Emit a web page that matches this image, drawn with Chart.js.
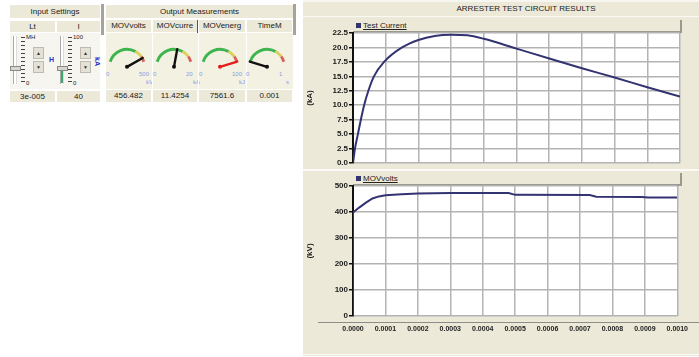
<!DOCTYPE html>
<html><head><meta charset="utf-8">
<script src="https://cdn.jsdelivr.net/npm/chart.js@4.4.0/dist/chart.umd.min.js"></script>
<style>
html,body{margin:0;padding:0;background:#fff;width:699px;height:357px;overflow:hidden;font-family:"Liberation Sans",Arial,sans-serif;color:#222;}
.a{position:absolute;}
.hdr{position:absolute;background:#ece9d8;font-size:8px;text-align:center;line-height:12px;white-space:nowrap;overflow:hidden;color:#222;}
.val{position:absolute;background:#ece9d8;font-size:8px;text-align:center;line-height:11px;white-space:nowrap;overflow:hidden;color:#222;}
.btn{position:absolute;width:9px;height:10px;background:#e4e2d6;border:1px solid #bdbab0;font-size:5px;line-height:10px;text-align:center;color:#333;}
.tick{position:absolute;width:4px;height:1px;background:#444;}
.glab{position:absolute;font-size:6px;color:#8d9be6;white-space:nowrap;}
canvas{position:absolute;}
.leg{position:absolute;background:#ece9d8;border-right:2px solid #9c9a90;border-bottom:2px solid #9c9a90;font-size:8px;line-height:11px;white-space:nowrap;}
.leg span.sq{display:inline-block;width:5px;height:5px;background:#333370;margin:0 2px 0 3px;vertical-align:0px;}
.leg span.t{text-decoration:underline;color:#222;}
</style>
</head><body>
<!-- left panel -->
<div class="hdr" style="left:10px;top:5px;width:90px;height:13px;line-height:13px;">Input Settings</div>
<div class="a" style="left:101px;top:4px;width:3px;height:31px;background:#a6a49a;"></div>
<div class="hdr" style="left:10px;top:21px;width:45px;height:11px;line-height:11px;">Lt</div>
<div class="hdr" style="left:57px;top:21px;width:43px;height:11px;line-height:11px;">I</div>
<div class="a" style="left:10px;top:33px;width:90px;height:56px;background:#f6f5f0;"></div>
<div id="sliders"></div>
<div class="val" style="left:10px;top:91px;width:45px;height:11px;">3e-005</div>
<div class="val" style="left:57px;top:91px;width:43px;height:11px;">40</div>

<div class="hdr" style="left:106px;top:5px;width:187px;height:13px;line-height:13px;">Output Measurements</div>
<div class="a" style="left:293px;top:4px;width:3px;height:31px;background:#a6a49a;"></div>
<div class="a" style="left:106px;top:33px;width:187px;height:56px;background:#f3f1e2;"></div>
<div id="gauges"></div>

<!-- right panel -->
<div class="a" style="left:303px;top:0px;width:396px;height:356px;background:#ece9d8;"></div>
<div class="a" style="left:303px;top:0px;width:396px;height:2px;background:#f7f6f0;"></div>
<div class="a" style="left:403px;top:3px;width:246px;text-align:center;font-size:8px;line-height:12px;color:#222;">ARRESTER TEST CIRCUIT RESULTS</div>
<div class="a" style="left:303px;top:16px;width:396px;height:1px;background:#faf9f4;"></div>
<div class="a" style="left:303px;top:169px;width:396px;height:2px;background:#fbfaf6;"></div>
<div class="a" style="left:318px;top:322px;width:381px;height:1px;background:#8e8c86;"></div>
<div class="a" style="left:303px;top:354px;width:396px;height:1px;background:#fbfaf6;"></div>
<div class="leg" style="left:353px;top:20px;width:327px;height:11px;"><span class="sq"></span><span class="t">Test Current</span></div>
<div class="leg" style="left:353px;top:173px;width:327px;height:11px;"><span class="sq"></span><span class="t">MOVvolts</span></div>

<canvas id="c1" width="392" height="153" style="left:305px;top:17px;"></canvas>
<canvas id="c2" width="392" height="170" style="left:305px;top:172px;"></canvas>

<script>
// ---- data ----
const xTicks = [0, 0.0001, 0.0002, 0.0003, 0.0004, 0.0005, 0.0006, 0.0007, 0.0008, 0.0009, 0.0010];
const currentTicks = [0, 2.5, 5, 7.5, 10, 12.5, 15, 17.5, 20, 22.5];
const voltTicks = [0, 100, 200, 300, 400, 500];

const currentTime = [0, 0.000006, 0.000015, 0.000024, 0.000034, 0.000047, 0.000064, 0.000095, 0.00015, 0.0002, 0.00025, 0.0003, 0.00035, 0.0004, 0.0005, 0.0006, 0.0007, 0.0008, 0.0009, 0.0010];
const currentKA   = [0, 2.5, 5.0, 7.5, 10.0, 12.5, 15.0, 17.5, 20.0, 21.3, 22.0, 22.2, 22.1, 21.5, 19.8, 18.1, 16.4, 14.8, 13.1, 11.5];

const voltTime = [0, 0, 0.00002, 0.00004, 0.00006, 0.00008, 0.0001, 0.00015, 0.0002, 0.0003, 0.00048, 0.0005, 0.00073, 0.00075, 0.00089, 0.00091, 0.0010];
const voltKV   = [0, 398, 418, 436, 452, 460, 464, 468, 471, 473, 473, 466, 465, 459, 458, 456, 456];

const gaugeNames  = ['MOVvolts', 'MOVcurre', 'MOVenerg', 'TimeM'];
const gaugeText   = ['456.482', '11.4254', '7561.6', '0.001'];
const gaugeValues = [456.482, 11.4254, 7561.6, 0.001];
const gaugeMax    = [500, 20, 100, 1];
const gaugeUnits  = ['kV', 'kA', 'kJ', 's'];
const gaugeBands  = [70, 17, 13];

const sliderTop = ['MH', '100'];

const FONT = '"Liberation Sans", Arial, sans-serif';

// ---- left panel widgets ----
(function(){
  const s = document.getElementById('sliders');
  let h = '';
  const xs = [10, 57];
  xs.forEach((x0, k) => {
    h += `<div class="a" style="left:${x0+3}px;top:36px;width:2px;height:48px;background:#fff;border-left:1px solid #aaa;border-right:1px solid #ddd;"></div>`;
    h += `<div class="a" style="left:${x0}px;top:66px;width:9px;height:3px;background:#d8d6cc;border:1px solid #888;"></div>`;
    if (k === 1) h += `<div class="a" style="left:${x0+4}px;top:71px;width:2px;height:12px;background:#3aa86a;"></div>`;
    for (let i = 0; i < 12; i++) h += `<div class="tick" style="left:${x0+11}px;top:${37+i*4}px;"></div>`;
    h += `<div class="a" style="left:${x0+16}px;top:34px;font-size:6px;color:#222;">${sliderTop[k]}</div>`;
    h += `<div class="a" style="left:${x0+16}px;top:80px;font-size:6px;color:#222;">0</div>`;
    h += `<div class="btn" style="left:${x0+23}px;top:47px;">&#9650;</div>`;
    h += `<div class="btn" style="left:${x0+23}px;top:61px;">&#9660;</div>`;
  });
  h += `<div class="a" style="left:49px;top:56px;font-size:7px;font-weight:bold;color:#2233cc;">H</div>`;
  h += `<div class="a" style="left:93px;top:58px;font-size:7px;font-weight:bold;color:#2233cc;transform:rotate(90deg);">kA</div>`;
  s.innerHTML = h;

  const g = document.getElementById('gauges');
  const colL = [106, 153, 199, 247];
  const colW = [46, 45, 47, 46];
  const cx = [127, 174, 220, 267];
  let gh = '';
  colL.forEach((l, i) => {
    gh += `<div class="hdr" style="left:${l}px;top:20px;width:${colW[i]-1}px;height:12px;">${gaugeNames[i]}</div>`;
    gh += `<div class="val" style="left:${l}px;top:90px;width:${colW[i]-1}px;height:12px;line-height:12px;">${gaugeText[i]}</div>`;
    if (i > 0) gh += `<div class="a" style="left:${l-1}px;top:33px;width:1px;height:56px;background:#fff;"></div>`;
    gh += `<div class="glab" style="left:${cx[i]-21}px;top:71px;">0</div>`;
    gh += `<div class="glab" style="left:${cx[i]+12}px;top:71px;">${gaugeMax[i]}</div>`;
    gh += `<div class="glab" style="left:${cx[i]+19}px;top:79px;">${gaugeUnits[i]}</div>`;
    gh += `<canvas id="g${i}" width="46" height="36" style="left:${cx[i]-23}px;top:37px;"></canvas>`;
  });
  gh += `<div class="a" style="left:197px;top:20px;width:1px;height:13px;background:#555;"></div>`;
  g.innerHTML = gh;
})();

// gauges via doughnut
const needlePlugin = {
  id: 'needle',
  afterDatasetsDraw(chart) {
    const el = chart.getDatasetMeta(0).data[0];
    if (!el) return;
    const i = chart.options.plugins.needle.idx;
    const f = Math.max(0, Math.min(1, gaugeValues[i] / gaugeMax[i]));
    const start = (chart.options.rotation - 90) * Math.PI / 180;
    const span = chart.options.circumference * Math.PI / 180;
    const ang = start + f * span;
    const ctx = chart.ctx;
    const r = el.outerRadius;
    ctx.save();
    ctx.strokeStyle = gaugeValues[i] >= gaugeMax[i] ? '#e4201c' : '#111';
    ctx.fillStyle = ctx.strokeStyle;
    ctx.lineWidth = 2.4;
    ctx.lineCap = 'round';
    ctx.beginPath();
    ctx.moveTo(el.x, el.y);
    ctx.lineTo(el.x + Math.cos(ang) * (r - 1), el.y + Math.sin(ang) * (r - 1));
    ctx.stroke();
    ctx.beginPath();
    ctx.arc(el.x, el.y, 2, 0, Math.PI * 2);
    ctx.fill();
    ctx.restore();
  }
};
gaugeValues.forEach((v, i) => {
  new Chart(document.getElementById('g' + i), {
    type: 'doughnut',
    data: { datasets: [{ data: gaugeBands, backgroundColor: ['#3db44e', '#d9cf5a', '#d8625a'], borderWidth: 0 }] },
    options: {
      responsive: false, animation: false, events: [],
      rotation: -73, circumference: 146, cutout: '85%', radius: 19,
      plugins: { legend: { display: false }, tooltip: { enabled: false }, needle: { idx: i } }
    },
    plugins: [needlePlugin]
  });
});

// ---- main charts ----
const plotBg = {
  id: 'plotBg',
  beforeDraw(chart) {
    const a = chart.chartArea, c = chart.ctx;
    c.save(); c.fillStyle = '#ffffff'; c.fillRect(a.left, a.top, a.right - a.left, a.bottom - a.top); c.restore();
  }
};
const GRID = '#b3b3b3';
function mkChart(id, xs, ys, yTicks, yMax, yTitle, yFmt, showX, padTop, xH, interp) {
  return new Chart(document.getElementById(id), {
    type: 'line',
    data: { datasets: [{
      data: xs.map((x, k) => ({ x: x, y: ys[k] })),
      borderColor: '#333372', borderWidth: 2, pointRadius: 0,
      cubicInterpolationMode: interp ? 'monotone' : 'default', tension: 0, fill: false
    }] },
    options: {
      responsive: false, animation: false, events: [],
      layout: { padding: { top: padTop, right: 17, left: 0, bottom: 0 } },
      plugins: { legend: { display: false }, tooltip: { enabled: false } },
      scales: {
        x: {
          type: 'linear', min: 0, max: 0.001,
          afterBuildTicks(s) { s.ticks = xTicks.map(v => ({ value: v })); },
          ticks: { display: showX, autoSkip: false, maxRotation: 0, padding: 9,
                   font: { size: 7, family: FONT, weight: 'bold' }, color: '#222',
                   callback: v => Number(v).toFixed(4) },
          grid: { color: GRID, lineWidth: 1.5, drawTicks: false },
          border: { display: false },
          afterFit(s) { s.height = xH; }
        },
        y: {
          min: 0, max: yMax,
          afterBuildTicks(s) { s.ticks = yTicks.map(v => ({ value: v })); },
          ticks: { font: { size: 8, family: FONT, weight: 'bold' }, color: '#1a1a1a', padding: 1, callback: yFmt },
          grid: { color: GRID, lineWidth: 1.5, tickColor: '#111', tickLength: 4, tickWidth: 1.5 },
          border: { color: '#111', width: 2 },
          title: { display: true, text: yTitle, font: { size: 8, family: FONT, weight: 'bold' }, color: '#222', padding: 0 },
          afterFit(s) { s.width = 48; }
        }
      }
    },
    plugins: [plotBg]
  });
}
mkChart('c1', currentTime, currentKA, currentTicks, 22.5, '(kA)', v => Number(v).toFixed(1), false, 16, 7, true);
mkChart('c2', voltTime, voltKV, voltTicks, 500, '(kV)', v => String(v), true, 14, 26, false);
</script>
</body></html>
